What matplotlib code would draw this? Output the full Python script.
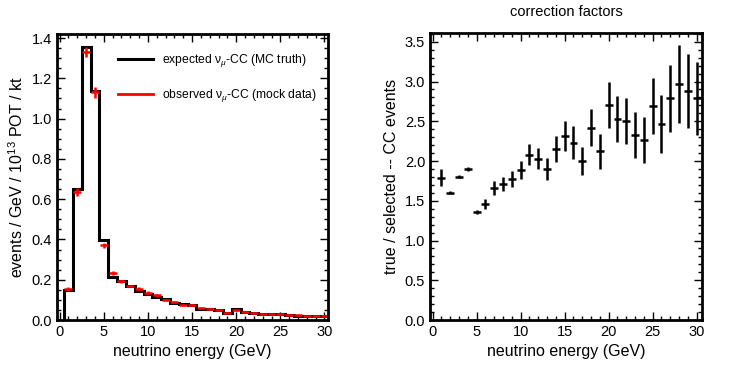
import matplotlib
matplotlib.use('Agg')
import matplotlib.pyplot as plt
import numpy as np
from matplotlib.ticker import MultipleLocator

plt.rcParams['font.family'] = ['Liberation Sans', 'DejaVu Sans']
plt.rcParams['mathtext.fontset'] = 'custom'
plt.rcParams['mathtext.rm'] = 'Liberation Sans'
plt.rcParams['mathtext.it'] = 'Liberation Sans:italic'

# energy bins (GeV), centred on integers
energy = np.arange(1, 31)
bin_edges = np.arange(0.5, 31.5, 1.0)

# expected nu_mu CC (MC truth)
expected = [0.150, 0.651, 1.355, 1.139, 0.395, 0.213, 0.192, 0.170, 0.145, 0.128,
            0.115, 0.102, 0.086, 0.078, 0.074, 0.056, 0.056, 0.050, 0.037, 0.053,
            0.041, 0.036, 0.031, 0.031, 0.030, 0.026, 0.021, 0.020, 0.020, 0.020]

# observed nu_mu CC (mock data)
observed = [0.152, 0.635, 1.330, 1.130, 0.372, 0.235, 0.193, 0.169, 0.155, 0.136,
            0.122, 0.099, 0.089, 0.074, 0.074, 0.061, 0.056, 0.048, 0.037, 0.051,
            0.040, 0.036, 0.031, 0.028, 0.028, 0.026, 0.023, 0.021, 0.021, 0.021]
observed_err = [0.010, 0.018, 0.025, 0.028, 0.012, 0.010, 0.008, 0.007, 0.007, 0.006,
                0.006, 0.005, 0.005, 0.005, 0.005, 0.004, 0.004, 0.004, 0.004, 0.004,
                0.003, 0.003, 0.003, 0.003, 0.003, 0.003, 0.003, 0.003, 0.003, 0.003]

# correction factors true / selected
corr = [1.79, 1.60, 1.80, 1.90, 1.36, 1.46, 1.66, 1.71, 1.77, 1.89,
        2.08, 2.03, 1.90, 2.15, 2.31, 2.23, 2.00, 2.42, 2.12, 2.71,
        2.53, 2.50, 2.33, 2.26, 2.69, 2.46, 2.79, 2.97, 2.88, 2.79]
corr_err = [0.11, 0.02, 0.02, 0.03, 0.03, 0.06, 0.09, 0.09, 0.10, 0.115,
            0.13, 0.135, 0.135, 0.165, 0.19, 0.21, 0.18, 0.23, 0.22, 0.29,
            0.29, 0.29, 0.29, 0.29, 0.355, 0.365, 0.42, 0.49, 0.47, 0.46]


def style_axes(ax, ymajor, yminor):
    ax.xaxis.set_major_locator(MultipleLocator(5))
    ax.xaxis.set_minor_locator(MultipleLocator(1))
    ax.yaxis.set_major_locator(MultipleLocator(ymajor))
    ax.yaxis.set_minor_locator(MultipleLocator(yminor))
    ax.tick_params(which='both', direction='in', top=True, right=True,
                   labelsize=10.5, width=1)
    ax.tick_params(which='major', length=6)
    ax.tick_params(which='minor', length=3)
    for s in ax.spines.values():
        s.set_linewidth(2)


fig = plt.figure(figsize=(7.46, 3.70), dpi=100)
ax1 = fig.add_axes([0.0764, 0.1351, 0.3633, 0.7730])
ax2 = fig.add_axes([0.5764, 0.1351, 0.3646, 0.7757])

# left: spectra
ax1.stairs(expected, bin_edges, baseline=0, color='black', lw=2.2,
           label=r'expected ν$_{\mu}$-CC (MC truth)')
ax1.errorbar(energy, observed, xerr=0.45, yerr=observed_err, fmt='none',
             ecolor='red', elinewidth=1.8)
ax1.plot([], [], color='red', lw=2, label=r'observed ν$_{\mu}$-CC (mock data)')
ax1.set_xlim(-0.3, 30.4)
ax1.set_ylim(0, 1.42)
style_axes(ax1, 0.2, 0.05)
ax1.set_xlabel('neutrino energy (GeV)', fontsize=11.5)
ax1.set_ylabel(r'events / GeV / 10$^{13}$ POT / kt', fontsize=11.5)
ax1.legend(loc='upper right', frameon=False, fontsize=8.7, handlelength=2.9,
           labelspacing=1.5, handletextpad=0.8, bbox_to_anchor=(1.0, 0.975))

# right: correction factors
ax2.errorbar(energy, corr, xerr=0.45, yerr=corr_err, fmt='none',
             ecolor='black', elinewidth=1.8)
ax2.set_xlim(-0.3, 30.6)
ax2.set_ylim(0, 3.61)
style_axes(ax2, 0.5, 0.1)
ax2.set_xlabel('neutrino energy (GeV)', fontsize=11.5)
ax2.set_ylabel('true / selected -- CC events', fontsize=11.5)
ax2.set_title('correction factors', fontsize=10.5, pad=12)

fig.savefig('out.png', dpi=100)
